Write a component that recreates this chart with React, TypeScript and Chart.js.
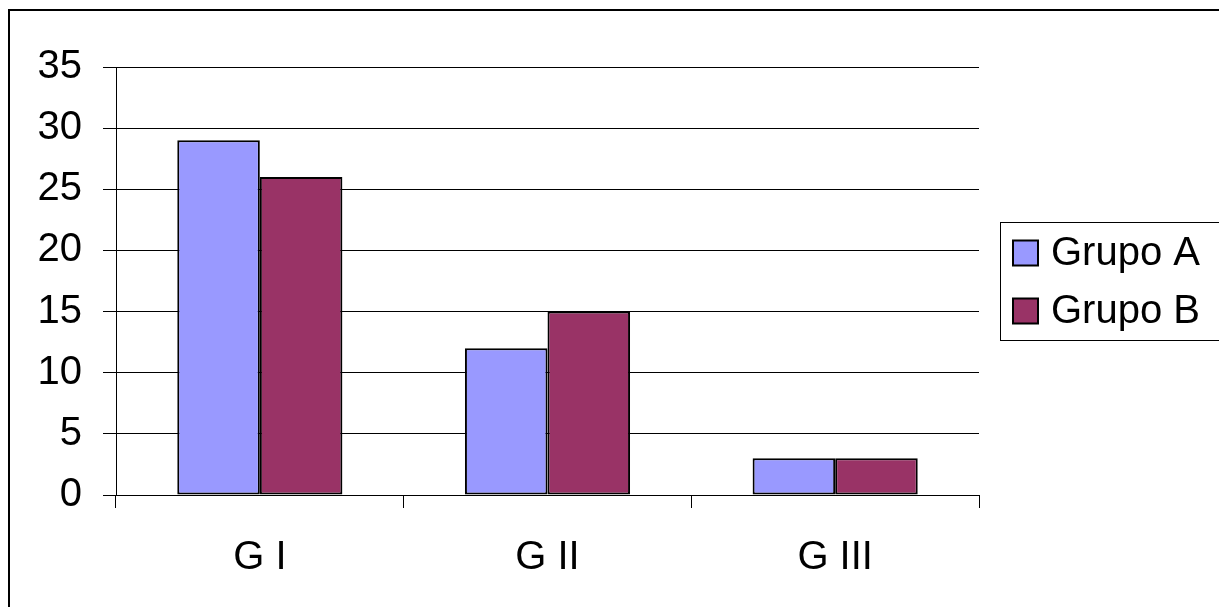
import React, { useEffect, useRef } from "react";
import { Chart, registerables } from "chart.js";

Chart.register(...registerables);

const categories = ["G I", "G II", "G III"];
const seriesNames = ["Grupo A", "Grupo B"];
const grupoA = [29, 12, 3];
const grupoB = [26, 15, 3];
const seriesColors = ["#9999FF", "#993366"];
const yMin = 0;
const yMax = 35;
const yStep = 5;

const FONT = '"Liberation Sans", Arial, Helvetica, sans-serif';

const boxLegend = {
  id: "boxLegend",
  afterDraw(chart: any) {
    const ctx = chart.ctx;
    ctx.save();
    ctx.strokeStyle = "#000";
    ctx.lineWidth = 1;
    ctx.strokeRect(1000.5, 222.5, 400, 118);
    chart.data.datasets.forEach((ds: any, i: number) => {
      const cy = 253 + i * 58;
      ctx.fillStyle = ds.backgroundColor;
      ctx.fillRect(1013, cy - 12.5, 25, 25);
      ctx.lineWidth = 2;
      ctx.strokeStyle = "#000";
      ctx.strokeRect(1013, cy - 12.5, 25, 25);
      ctx.fillStyle = "#000";
      ctx.font = `40px ${FONT}`;
      ctx.textBaseline = "middle";
      ctx.textAlign = "left";
      ctx.fillText(ds.label, 1051, cy + 1);
    });
    ctx.restore();
  },
};

export default function App() {
  const ref = useRef<HTMLCanvasElement | null>(null);

  useEffect(() => {
    if (!ref.current) return;
    const chart = new Chart(ref.current, {
      type: "bar",
      data: {
        labels: categories,
        datasets: [
          {
            label: seriesNames[0],
            data: grupoA,
            backgroundColor: seriesColors[0],
            borderColor: "#000",
            borderWidth: 2,
            borderSkipped: false,
          },
          {
            label: seriesNames[1],
            data: grupoB,
            backgroundColor: seriesColors[1],
            borderColor: "#000",
            borderWidth: 2,
            borderSkipped: false,
          },
        ],
      },
      options: {
        responsive: false,
        animation: false,
        devicePixelRatio: 1,
        layout: { padding: { top: 67, right: 240, left: 0, bottom: 0 } },
        datasets: {
          bar: { categoryPercentage: 0.574, barPercentage: 1 },
        },
        plugins: {
          legend: { display: false },
          tooltip: { enabled: false },
          title: { display: false },
        },
        scales: {
          x: {
            grid: {
              display: true,
              drawOnChartArea: false,
              drawTicks: true,
              tickLength: 13,
              color: "#000",
              offset: true,
            },
            border: { display: true, color: "#000", width: 1 },
            ticks: {
              color: "#000",
              padding: 26,
              font: { family: FONT, size: 40 },
            },
            afterFit(scale: any) {
              scale.height = 112;
            },
          },
          y: {
            min: yMin,
            max: yMax,
            grid: {
              color: "#000",
              lineWidth: 1,
              drawTicks: true,
              tickLength: 13,
            },
            border: { display: true, color: "#000", width: 1 },
            ticks: {
              stepSize: yStep,
              color: "#000",
              padding: 21,
              font: { family: FONT, size: 40 },
            },
            afterFit(scale: any) {
              scale.width = 116;
            },
          },
        },
      },
      plugins: [boxLegend],
    });
    return () => chart.destroy();
  }, []);

  return (
    <div
      style={{
        position: "fixed",
        left: 0,
        top: 0,
        width: 1219,
        height: 607,
        overflow: "hidden",
        background: "#fff",
      }}
    >
      <div
        style={{
          position: "absolute",
          left: 8,
          top: 9,
          width: 1400,
          height: 800,
          border: "2px solid #000",
          boxSizing: "border-box",
        }}
      />
      <canvas
        ref={ref}
        width={1219}
        height={607}
        style={{ position: "absolute", left: 0, top: 0, width: 1219, height: 607 }}
      />
    </div>
  );
}
